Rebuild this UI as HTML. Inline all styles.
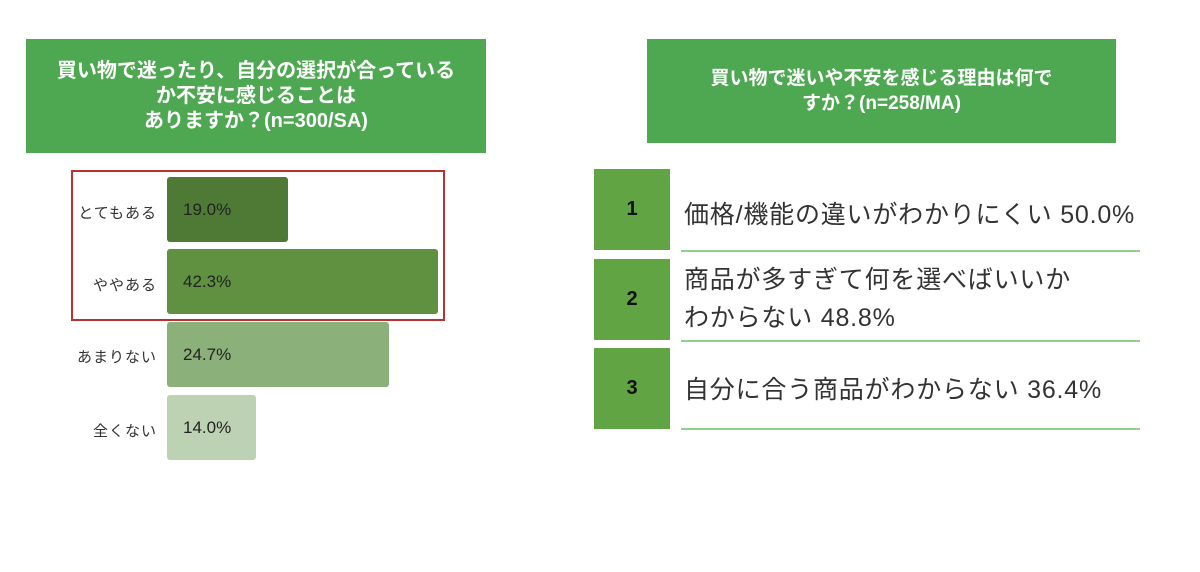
<!DOCTYPE html>
<html><head><meta charset="utf-8"><style>
body{margin:0;width:1200px;height:572px;background:#fff;position:relative;overflow:hidden;font-family:"Liberation Sans","Noto Sans CJK JP",sans-serif}
div{position:absolute;box-sizing:border-box}
.h{background:#4ea852;color:#fff;font-weight:bold;text-align:center;display:flex;align-items:center;justify-content:center}
.bar{left:167px;height:65px;border-radius:3px;font-size:17px;color:#222;padding-left:16px;display:flex;align-items:center}
.lab{left:30px;width:127px;text-align:right;font-size:15px;letter-spacing:1px;color:#333}
.num{left:594px;width:76px;height:81px;background:#61a444;font-weight:bold;font-size:20px;color:#111;display:flex;align-items:center;justify-content:center}
.ln{left:681px;width:459px;height:2px;background:#8fcf8f}
.t{left:684px;font-size:25px;letter-spacing:0.8px;color:#333;line-height:38px;white-space:nowrap}
</style></head><body>
<div class="h" style="left:26px;top:39px;width:460px;height:114px;font-size:20px;line-height:25px">買い物で迷ったり、自分の選択が合っている<br>か不安に感じることは<br>ありますか？(n=300/SA)</div>
<div style="left:71px;top:170px;width:374px;height:151px;border:2px solid #b83232"></div>
<div class="lab" style="top:202px">とてもある</div>
<div class="lab" style="top:274px">ややある</div>
<div class="lab" style="top:346px">あまりない</div>
<div class="lab" style="top:420px">全くない</div>
<div class="bar" style="top:177px;width:121px;background:#4e7a36">19.0%</div>
<div class="bar" style="top:249px;width:271px;background:#5f9141">42.3%</div>
<div class="bar" style="top:322px;width:222px;background:#8cb07a">24.7%</div>
<div class="bar" style="top:395px;width:89px;background:#bdd2b3">14.0%</div>
<div class="h" style="left:647px;top:39px;width:469px;height:104px;font-size:19px;line-height:25px">買い物で迷いや不安を感じる理由は何で<br>すか？(n=258/MA)</div>
<div class="num" style="top:169px">1</div>
<div class="num" style="top:259px">2</div>
<div class="num" style="top:348px">3</div>
<div class="ln" style="top:250px"></div>
<div class="ln" style="top:340px"></div>
<div class="ln" style="top:428px"></div>
<div class="t" style="top:196px">価格/機能の違いがわかりにくい 50.0%</div>
<div class="t" style="top:261px">商品が多すぎて何を選べばいいか<br>わからない 48.8%</div>
<div class="t" style="top:371px">自分に合う商品がわからない 36.4%</div>
</body></html>
